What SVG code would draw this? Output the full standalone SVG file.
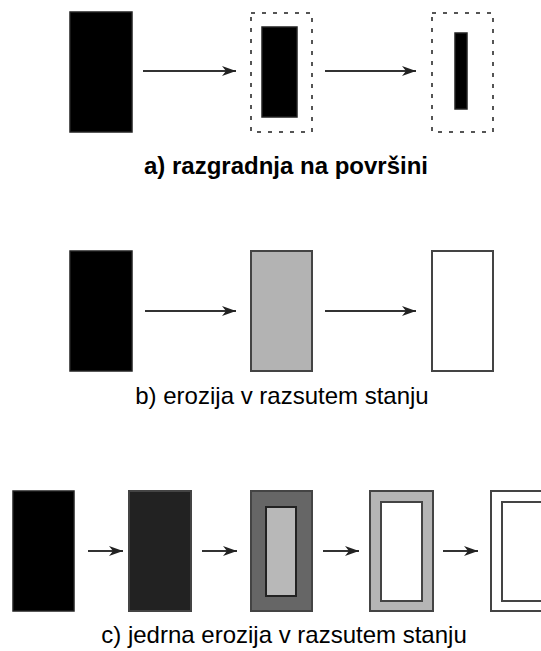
<svg xmlns="http://www.w3.org/2000/svg" width="541" height="651" viewBox="0 0 541 651">
  <style>
    .blk { fill: #000; stroke: #222; stroke-width: 1.5; }
    .box { stroke: #444; stroke-width: 2; }
    .dash { fill: none; stroke: #555; stroke-width: 2; stroke-dasharray: 4 7; }
    .conn { stroke: #333; stroke-width: 2.2; fill: none; marker-end: url(#head); }
    .cap { font-family: "Liberation Sans", Arial, sans-serif; font-size: 24px; fill: #000; text-anchor: middle; }
  </style>
  <defs>
    <marker id="head" markerUnits="userSpaceOnUse" markerWidth="16" markerHeight="12" viewBox="-14 -6 16 12" refX="0" refY="0" orient="auto">
      <path d="M0,0 L-14,-5 L-10,0 L-14,5 Z" fill="#222"/>
    </marker>
  </defs>

  <rect width="541" height="651" fill="#fff"/>

  <!-- a) surface degradation -->
  <g id="a-start"><rect class="blk" x="70" y="12" width="62" height="120"/></g>
  <g id="a-mid">
    <rect class="dash" x="251" y="13" width="61" height="119"/>
    <rect class="blk" x="262" y="27" width="35" height="90"/>
  </g>
  <g id="a-end">
    <rect class="dash" x="432" y="13" width="61" height="119"/>
    <rect class="blk" x="455" y="33" width="12" height="76"/>
  </g>
  <text id="a-caption" class="cap" x="286" y="174" font-weight="bold">a) razgradnja na površini</text>

  <!-- b) bulk erosion -->
  <g id="b-start"><rect class="blk" x="70" y="251" width="62" height="120"/></g>
  <g id="b-mid"><rect class="box" x="251" y="251" width="61" height="120" fill="#b3b3b3"/></g>
  <g id="b-end"><rect class="box" x="432" y="251" width="61" height="120" fill="#fff"/></g>
  <text id="b-caption" class="cap" x="282" y="404">b) erozija v razsutem stanju</text>

  <!-- c) core erosion in bulk -->
  <g id="c-1"><rect class="blk" x="13" y="491" width="61" height="120"/></g>
  <g id="c-2"><rect class="box" x="129" y="491" width="62" height="120" fill="#222"/></g>
  <g id="c-3">
    <rect class="box" x="251" y="491" width="61" height="120" fill="#666"/>
    <rect x="266" y="507" width="30" height="89" fill="#b8b8b8" stroke="#222" stroke-width="2"/>
  </g>
  <g id="c-4">
    <rect class="box" x="370" y="491" width="63" height="120" fill="#b5b5b5"/>
    <rect class="box" x="381" y="502" width="41" height="99" fill="#fff"/>
  </g>
  <g id="c-5">
    <rect class="box" x="491" y="491" width="62" height="120" fill="#fff"/>
    <rect class="box" x="502" y="502" width="40" height="99" fill="#fff"/>
  </g>
  <text id="c-caption" class="cap" x="284" y="643">c) jedrna erozija v razsutem stanju</text>

  <g id="connectors">
    <line class="conn" x1="143" y1="71" x2="236" y2="71"/>
    <line class="conn" x1="325" y1="71" x2="416" y2="71"/>
    <line class="conn" x1="145" y1="311" x2="236" y2="311"/>
    <line class="conn" x1="325" y1="311" x2="416" y2="311"/>
    <line class="conn" x1="88" y1="551" x2="123" y2="551"/>
    <line class="conn" x1="202" y1="551" x2="237" y2="551"/>
    <line class="conn" x1="323" y1="551" x2="359" y2="551"/>
    <line class="conn" x1="443" y1="551" x2="478" y2="551"/>
  </g>
</svg>
